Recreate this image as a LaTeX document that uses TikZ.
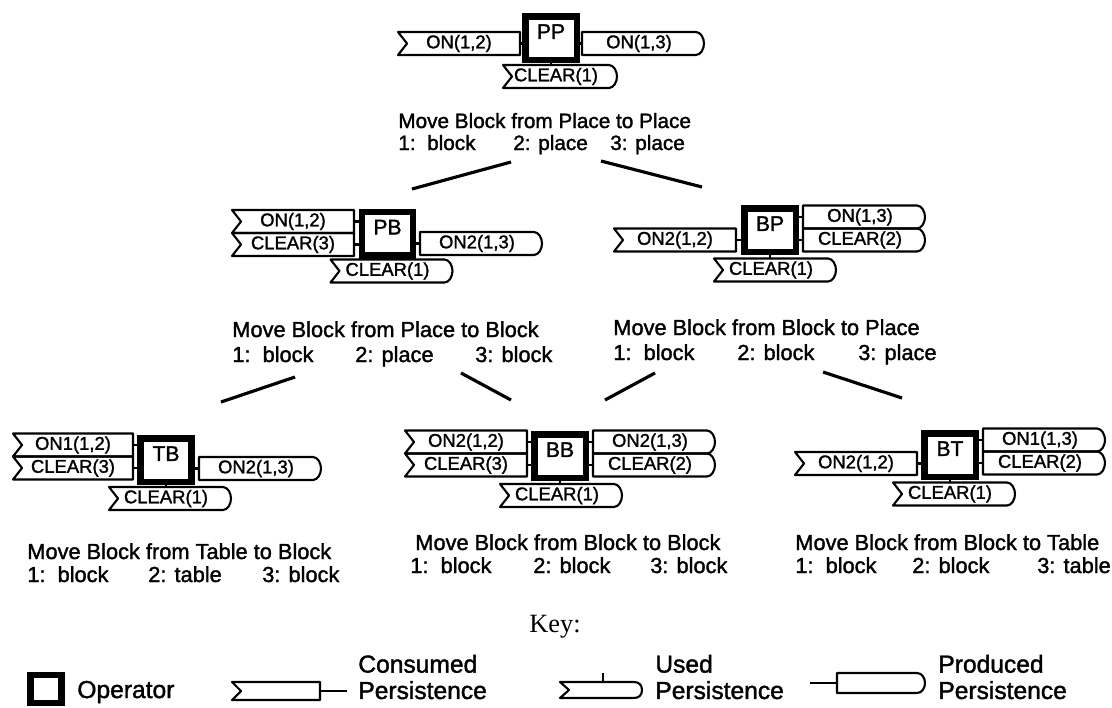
\documentclass[tikz,border=0pt]{standalone}
\usepackage{fontspec}
\setmainfont{Liberation Sans}[FakeBold=1.5]
\newfontfamily\keyfont{Liberation Serif}
\usetikzlibrary{calc}
\tikzset{
  op/.style = {rectangle, draw=black, line width=0.13cm, minimum width=1.03cm, minimum height=0.87cm, inner sep=0pt, text height=8pt, text depth=7pt, font=\fontsize{12}{14}\selectfont},
  pers/.style = {rectangle, inner sep=0pt, outer sep=0pt, minimum height=0.46cm, font=\fontsize{10.5}{12}\selectfont},
  cons/.style = {pers, minimum width=2.44cm},
  prod/.style = {pers, minimum width=2.28cm},
  pline/.style = {line width=1.2pt, line join=round},
  link/.style = {line width=1.8pt},
  captxt/.style = {anchor=base west, inner sep=0pt, font=\fontsize{12.4}{14}\selectfont},
  keytxt/.style = {anchor=west, align=left, inner sep=0pt, font=\fontsize{14}{15}\selectfont}
}
% outlines of the persistence boxes
\newcommand{\conspers}[1]{\draw[pline] (#1.north west) -- (#1.north east) -- (#1.south east) -- (#1.south west) -- ($(#1.west)+(9,0)$) -- cycle;}
\newcommand{\prodpers}[1]{\draw[pline] (#1.south east) -- (#1.south west) -- (#1.north west) -- (#1.north east) .. controls ($(#1.north east)+(5,0)$) and ($(#1.east)+(8,-5)$) .. ($(#1.east)+(8,0)$) .. controls ($(#1.east)+(8,5)$) and ($(#1.south east)+(5,0)$) .. (#1.south east) -- cycle;}
\newcommand{\usedpers}[1]{\draw[pline] ($(#1.west)+(9,0)$) -- (#1.north west) -- (#1.north east) .. controls ($(#1.north east)+(5,0)$) and ($(#1.east)+(8,-5)$) .. ($(#1.east)+(8,0)$) .. controls ($(#1.east)+(8,5)$) and ($(#1.south east)+(5,0)$) .. (#1.south east) -- (#1.south west) -- cycle;}

\begin{document}
\begin{tikzpicture}[x=0.02cm, y=-0.02cm]
\useasboundingbox (0,0) rectangle (1112,707);

% ----- PP (top) -----
\node[op] (pp) at (551,38) {PP};
\node[cons] (pp-c1) at (459,43.5) {ON(1,2)};
\node[prod] (pp-p1) at (639,43.5) {ON(1,3)};
\node[prod, minimum width=2.12cm] (pp-u) at (556,76.5) {CLEAR(1)};
\conspers{pp-c1}
\prodpers{pp-p1}
\usedpers{pp-u}
\draw[pline] (pp-c1.east) -- (pp-c1.east -| pp.west);
\draw[pline] (pp.east |- pp-p1.west) -- (pp-p1.west);
\draw[pline] (pp.south) -- (pp.south |- pp-u.north);
\node[captxt, font=\fontsize{11.8}{14}\selectfont] (pp-t) at (398,128) {Move Block from Place to Place};
\node[captxt, font=\fontsize{11.8}{14}\selectfont] (pp-a) at (398,150) {\makebox[2.3cm][l]{1:~~block}\makebox[1.94cm][l]{2: place}3: place};

% ----- PB (middle left) -----
\node[op] (pb) at (387.5,233.5) {PB};
\node[cons] (pb-c1) at (293,221.5) {ON(1,2)};
\node[cons] (pb-c2) at (293,244.5) {CLEAR(3)};
\node[prod] (pb-p1) at (477,243.5) {ON2(1,3)};
\node[prod] (pb-u) at (387.5,271) {CLEAR(1)};
\conspers{pb-c1}
\conspers{pb-c2}
\prodpers{pb-p1}
\usedpers{pb-u}
\draw[pline] (pb-c1.east) -- (pb-c1.east -| pb.west);
\draw[pline] (pb-c2.east) -- (pb-c2.east -| pb.west);
\draw[pline] (pb.east |- pb-p1.west) -- (pb-p1.west);
\draw[pline] (pb.south) -- (pb.south |- pb-u.north);
\node[captxt] (pb-t) at (232,337) {Move Block from Place to Block};
\node[captxt] (pb-a) at (232,362) {\makebox[2.46cm][l]{1:~~block}\makebox[2.4cm][l]{2: place}3: block};

% ----- BP (middle right) -----
\node[op] (bp) at (770,230) {BP};
\node[cons] (bp-c1) at (675,240) {ON2(1,2)};
\node[prod] (bp-p1) at (860,217) {ON(1,3)};
\node[prod] (bp-p2) at (860,240) {CLEAR(2)};
\node[prod] (bp-u) at (771,270) {CLEAR(1)};
\conspers{bp-c1}
\prodpers{bp-p1}
\prodpers{bp-p2}
\usedpers{bp-u}
\draw[pline] (bp-c1.east) -- (bp-c1.east -| bp.west);
\draw[pline] (bp.east |- bp-p1.west) -- (bp-p1.west);
\draw[pline] (bp.east |- bp-p2.west) -- (bp-p2.west);
\draw[pline] (bp.south) -- (bp.south |- bp-u.north);
\node[captxt] (bp-t) at (613,335) {Move Block from Block to Place};
\node[captxt] (bp-a) at (613,360) {\makebox[2.48cm][l]{1:~~block}\makebox[2.42cm][l]{2: block}3: place};

% ----- TB (bottom left) -----
\node[op] (tb) at (166,460) {TB};
\node[cons, minimum width=2.4cm] (tb-c1) at (73,445) {ON1(1,2)};
\node[cons, minimum width=2.4cm] (tb-c2) at (73,468) {CLEAR(3)};
\node[prod] (tb-p1) at (256,468.5) {ON2(1,3)};
\node[prod] (tb-u) at (166,498.5) {CLEAR(1)};
\conspers{tb-c1}
\conspers{tb-c2}
\prodpers{tb-p1}
\usedpers{tb-u}
\draw[pline] (tb-c1.east) -- (tb-c1.east -| tb.west);
\draw[pline] (tb-c2.east) -- (tb-c2.east -| tb.west);
\draw[pline] (tb.east |- tb-p1.west) -- (tb-p1.west);
\draw[pline] (tb.south) -- (tb.south |- tb-u.north);
\node[captxt] (tb-t) at (27,559) {Move Block from Table to Block};
\node[captxt] (tb-a) at (27,582) {\makebox[2.42cm][l]{1:~~block}\makebox[2.28cm][l]{2: table}3: block};

% ----- BB (bottom middle) -----
\node[op] (bb) at (560,456) {BB};
\node[cons] (bb-c1) at (466,442) {ON2(1,2)};
\node[cons] (bb-c2) at (466,465) {CLEAR(3)};
\node[prod] (bb-p1) at (650,442) {ON2(1,3)};
\node[prod] (bb-p2) at (650,465) {CLEAR(2)};
\node[prod] (bb-u) at (557,495.5) {CLEAR(1)};
\conspers{bb-c1}
\conspers{bb-c2}
\prodpers{bb-p1}
\prodpers{bb-p2}
\usedpers{bb-u}
\draw[pline] (bb-c1.east) -- (bb-c1.east -| bb.west);
\draw[pline] (bb-c2.east) -- (bb-c2.east -| bb.west);
\draw[pline] (bb.east |- bb-p1.west) -- (bb-p1.west);
\draw[pline] (bb.east |- bb-p2.west) -- (bb-p2.west);
\draw[pline] (bb.south) -- (bb.south |- bb-u.north);
\node[captxt] (bb-t) at (415,550) {Move Block from Block to Block};
\node[captxt] (bb-a) at (410,573) {\makebox[2.46cm][l]{1:~~block}\makebox[2.34cm][l]{2: block}3: block};

% ----- BT (bottom right) -----
\node[op] (bt) at (950,455) {BT};
\node[cons] (bt-c1) at (856,463.5) {ON2(1,2)};
\node[prod] (bt-p1) at (1040,440) {ON1(1,3)};
\node[prod] (bt-p2) at (1040,463) {CLEAR(2)};
\node[prod] (bt-u) at (950,494) {CLEAR(1)};
\conspers{bt-c1}
\prodpers{bt-p1}
\prodpers{bt-p2}
\usedpers{bt-u}
\draw[pline] (bt-c1.east) -- (bt-c1.east -| bt.west);
\draw[pline] (bt.east |- bt-p1.west) -- (bt-p1.west);
\draw[pline] (bt.east |- bt-p2.west) -- (bt-p2.west);
\draw[pline] (bt.south) -- (bt.south |- bt-u.north);
\node[captxt] (bt-t) at (795,550) {Move Block from Block to Table};
\node[captxt] (bt-a) at (795,573) {\makebox[2.34cm][l]{1:~~block}\makebox[2.5cm][l]{2: block}3: table};

% ----- tree lines -----
\coordinate (pp-l1) at (511,162);
\coordinate (pp-l2) at (412,189);
\coordinate (pp-r1) at (601,161);
\coordinate (pp-r2) at (702,187);
\draw[link] (pp-l1) -- (pp-l2);
\draw[link] (pp-r1) -- (pp-r2);
\coordinate (pb-l1) at (295,377);
\coordinate (pb-l2) at (221,402);
\coordinate (pb-r1) at (461,373);
\coordinate (pb-r2) at (511,400);
\draw[link] (pb-l1) -- (pb-l2);
\draw[link] (pb-r1) -- (pb-r2);
\coordinate (bp-l1) at (655,373);
\coordinate (bp-l2) at (605,400);
\coordinate (bp-r1) at (823,372);
\coordinate (bp-r2) at (902,398);
\draw[link] (bp-l1) -- (bp-l2);
\draw[link] (bp-r1) -- (bp-r2);

% ----- key -----
\node[font=\keyfont\fontsize{15}{18}\selectfont] (key) at (555,627) {Key:};
\node[op, minimum width=0.62cm, minimum height=0.56cm] (k-op) at (46,689) {};
\node[keytxt] (k-opt) at (77,692) {Operator};
\node[cons, minimum width=1.76cm, minimum height=0.36cm] (k-c) at (276,691) {};
\conspers{k-c}
\coordinate (k-cend) at (347,691);
\draw[pline] (k-c.east) -- (k-cend);
\node[keytxt] (k-ct) at (358,677) {Consumed\\Persistence};
\node[prod, minimum width=1.48cm, minimum height=0.32cm] (k-u) at (597,690) {};
\usedpers{k-u}
\coordinate (k-uend) at (603,673);
\draw[pline] (k-u.north -| k-uend) -- (k-uend);
\node[keytxt] (k-ut) at (655,677) {Used\\Persistence};
\coordinate (k-pend) at (810,683);
\node[prod, minimum width=1.6cm, minimum height=0.4cm] (k-p) at (877,683) {};
\prodpers{k-p}
\draw[pline] (k-pend) -- (k-p.west);
\node[keytxt] (k-pt) at (938,677) {Produced\\Persistence};

\end{tikzpicture}
\end{document}
